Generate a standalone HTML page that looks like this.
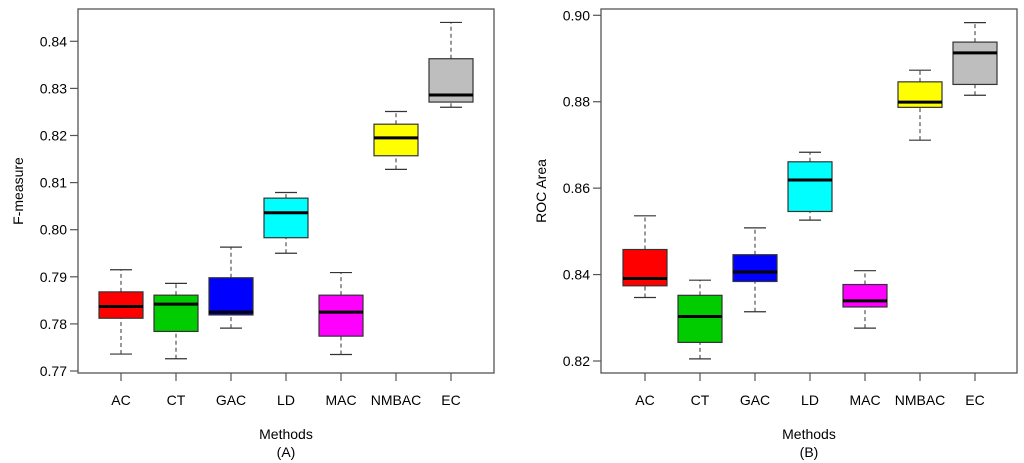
<!DOCTYPE html>
<html><head><meta charset="utf-8"><style>
html,body{margin:0;padding:0;background:#fff;width:1024px;height:463px;overflow:hidden}
svg text{font-family:"Liberation Sans",sans-serif;fill:#000}
</style></head><body>
<svg id="chart" width="1024" height="463" xmlns="http://www.w3.org/2000/svg"></svg>
<script>
const categories = ["AC","CT","GAC","LD","MAC","NMBAC","EC"];
const colors = ["#ff0000","#00cc00","#0000ff","#00ffff","#ff00ff","#ffff00","#bebebe"];
// [whiskerLow, Q1, median, Q3, whiskerHigh]
const fmeasureStats = [
 [0.7736,0.7812,0.7837,0.7868,0.7915],
 [0.7726,0.7784,0.7842,0.7861,0.7886],
 [0.7791,0.7819,0.7825,0.7898,0.7963],
 [0.7950,0.7983,0.8036,0.8067,0.8079],
 [0.7735,0.7774,0.7825,0.7861,0.7909],
 [0.8128,0.8157,0.8195,0.8224,0.8251],
 [0.8260,0.8271,0.8286,0.8363,0.8440]
];
const rocStats = [
 [0.8347,0.8374,0.8391,0.8458,0.8536],
 [0.8205,0.8243,0.8303,0.8352,0.8387],
 [0.8314,0.8384,0.8406,0.8446,0.8508],
 [0.8526,0.8546,0.8619,0.8661,0.8683],
 [0.8276,0.8325,0.8339,0.8377,0.8409],
 [0.8711,0.8787,0.8799,0.8846,0.8873],
 [0.8815,0.8840,0.8913,0.8938,0.8983]
];
const fTicks = [0.77,0.78,0.79,0.80,0.81,0.82,0.83,0.84];
const fTickLabels = ["0.77","0.78","0.79","0.80","0.81","0.82","0.83","0.84"];
const rocTicks = [0.82,0.84,0.86,0.88,0.90];
const rocTickLabels = ["0.82","0.84","0.86","0.88","0.90"];

const NS="http://www.w3.org/2000/svg";
const svg=document.getElementById('chart');
function mk(tag,attrs,parent){const e=document.createElementNS(NS,tag);for(const k in attrs)e.setAttribute(k,attrs[k]);(parent||svg).appendChild(e);return e;}

function panel(cfg){
  const g=mk('g',{});
  
  
  const y=v=>cfg.y0+(v-cfg.v0)*(cfg.y1-cfg.y0)/(cfg.v1-cfg.v0);
  const x=i=>cfg.cx0+i*cfg.step;
  const frame=mk('rect',{x:cfg.left,y:9,width:cfg.right-cfg.left,height:364,fill:'none',stroke:'#555','stroke-width':1.3},g);
  
  
  cfg.ticks.forEach((t,i)=>{
    const ty=y(t);
    const tk=mk('line',{x1:cfg.left-8,x2:cfg.left,y1:ty,y2:ty,stroke:'#555','stroke-width':1.2},g);
    
    
    const tl=mk('text',{x:cfg.left-11,y:ty+5,'text-anchor':'end','font-size':14},g);
    tl.textContent=cfg.tickLabels[i];
    
    
  });
  categories.forEach((c,i)=>{
    const cx=x(i);
    const tk=mk('line',{x1:cx,x2:cx,y1:373,y2:381,stroke:'#555','stroke-width':1.2},g);
    
    
    const tl=mk('text',{x:cx,y:405,'text-anchor':'middle','font-size':14},g);
    tl.textContent=c;
    
    
    const s=cfg.stats[i];const hw=22,cw=11;
    const bg=mk('g',{},g);
    
    
    mk('line',{x1:cx,x2:cx,y1:y(s[0]),y2:y(s[1]),stroke:'#333','stroke-dasharray':'4,3'},bg);
    mk('line',{x1:cx,x2:cx,y1:y(s[3]),y2:y(s[4]),stroke:'#333','stroke-dasharray':'4,3'},bg);
    mk('line',{x1:cx-cw,x2:cx+cw,y1:y(s[0]),y2:y(s[0]),stroke:'#333','stroke-width':1.2},bg);
    mk('line',{x1:cx-cw,x2:cx+cw,y1:y(s[4]),y2:y(s[4]),stroke:'#333','stroke-width':1.2},bg);
    mk('rect',{x:cx-hw,y:y(s[3]),width:2*hw,height:y(s[1])-y(s[3]),fill:colors[i],stroke:'#333','stroke-width':1.2},bg);
    mk('line',{x1:cx-hw,x2:cx+hw,y1:y(s[2]),y2:y(s[2]),stroke:'#000','stroke-width':3},bg);
  });
  const mx=(cfg.left+cfg.right)/2;
  const xt=mk('text',{x:mx,y:439,'text-anchor':'middle','font-size':14},g);
  xt.textContent='Methods';
  
  
  const pt=mk('text',{x:mx,y:457,'text-anchor':'middle','font-size':14},g);
  pt.textContent=cfg.label;
  
  
  const yt=mk('text',{x:cfg.ytx,y:191,'text-anchor':'middle','font-size':14,transform:`rotate(-90 ${cfg.ytx} 191)`},g);
  yt.textContent=cfg.ytitle;
  
  
}
panel({name:'panel-a-fmeasure',left:78,right:494,cx0:121,step:55,v0:0.84,y0:41.3,v1:0.77,y1:371,stats:fmeasureStats,ticks:fTicks,tickLabels:fTickLabels,label:'(A)',ytitle:'F-measure',ytx:23});
panel({name:'panel-b-roc',left:601,right:1017,cx0:645,step:55,v0:0.90,y0:15.3,v1:0.82,y1:361,stats:rocStats,ticks:rocTicks,tickLabels:rocTickLabels,label:'(B)',ytitle:'ROC Area',ytx:546});
</script>
</body></html>
